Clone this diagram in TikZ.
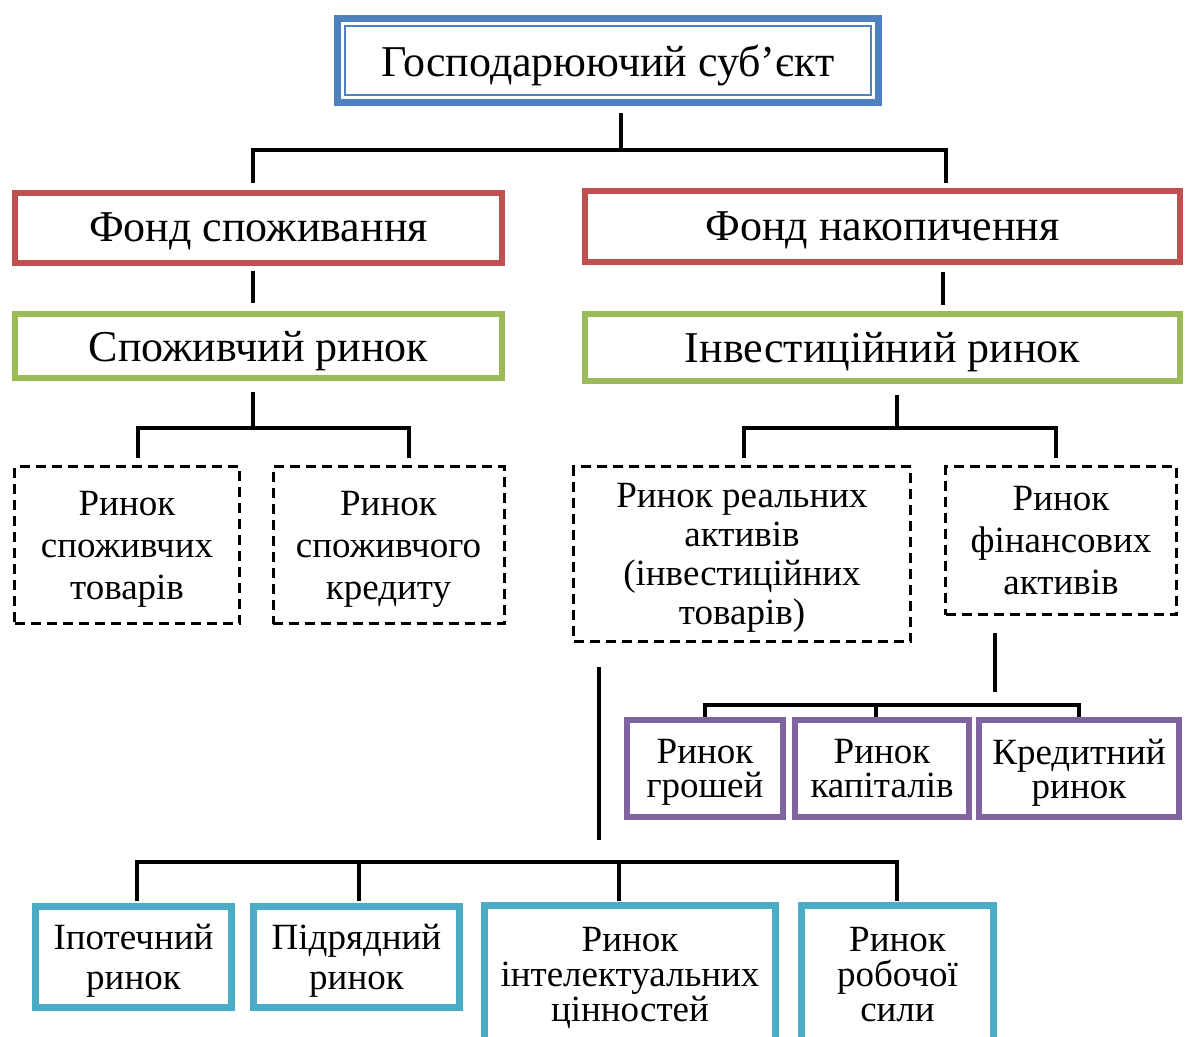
\documentclass[tikz,border=0pt]{standalone}
\usepackage{fontspec}
\setmainfont{Liberation Serif}
\usepackage{tikz}
\definecolor{subjblue}{HTML}{4F81BD}
\definecolor{fundred}{HTML}{C0504D}
\definecolor{mktgreen}{HTML}{9BBB59}
\definecolor{finpurple}{HTML}{8064A2}
\definecolor{invcyan}{HTML}{4BACC6}

\begin{document}
\begin{tikzpicture}[x=1pt, y=-1pt,
    box/.style={draw, fill=white, align=center, inner sep=0pt, text depth=0pt},
    bigbox/.style={box, font=\fontsize{44}{50}\selectfont},
    smallbox/.style={box, font=\fontsize{37}{#1}\selectfont},
    smallbox/.default=39,
    fund/.style={bigbox, draw=fundred, line width=6pt},
    market/.style={bigbox, draw=mktgreen, line width=6pt},
    dashbox/.style={smallbox=#1, line width=3pt, dash pattern=on 10pt off 6pt},
    dashbox/.default=42,
    finbox/.style={smallbox=34, draw=finpurple, line width=6pt},
    invbox/.style={smallbox=#1, draw=invcyan, line width=7pt},
    invbox/.default=35,
    link/.style={line width=3.5pt}]
  \clip (0,0) rectangle (1185,1036);
  \fill[white] (0,0) rectangle (1185,1036);

  % Top of the tree
  \node[bigbox, draw=subjblue, line width=7pt, minimum width=541pt, minimum height=84pt]
    (subj) at (608,60.5) {Господарюючий суб’єкт};
  \draw[subjblue, line width=2.5pt] ([xshift=11pt,yshift=-11pt]subj.north west)
    rectangle ([xshift=-11pt,yshift=11pt]subj.south east);

  % Funds
  \node[fund, minimum width=487pt, minimum height=70pt] (cfund) at (258.5,227.5) {Фонд споживання};
  \node[fund, minimum width=595pt, minimum height=71pt] (afund) at (882.5,226.5) {Фонд накопичення};

  % Markets
  \node[market, minimum width=487pt, minimum height=64pt] (cmkt) at (258.5,346) {Споживчий ринок};
  \node[market, minimum width=595pt, minimum height=67pt] (imkt) at (882.5,347.5) {Інвестиційний ринок};

  % Dashed sub-markets
  \node[dashbox, minimum width=225pt, minimum height=157pt] (goods) at (127,545)
    {Ринок\\споживчих\\товарів};
  \node[dashbox, minimum width=231pt, minimum height=157pt] (credit) at (388.5,545)
    {Ринок\\споживчого\\кредиту};
  \node[dashbox=39, minimum width=337pt, minimum height=175pt] (real) at (742,554)
    {Ринок реальних\\активів\\(інвестиційних\\товарів)};
  \node[dashbox, minimum width=231pt, minimum height=148pt] (fin) at (1061,540.5)
    {Ринок\\фінансових\\активів};

  % Financial assets
  \node[finbox, minimum width=156pt, minimum height=97pt] (money) at (705,768.5) {Ринок\\грошей};
  \node[finbox, minimum width=174pt, minimum height=97pt] (capital) at (882,768.5) {Ринок\\капіталів};
  \node[finbox, minimum width=200pt, minimum height=97pt] (loans) at (1079,768.5) {Кредитний\\ринок};

  % Real assets
  \node[invbox=40, minimum width=196pt, minimum height=101pt] (mortg) at (133.5,957) {Іпотечний\\ринок};
  \node[invbox=40, minimum width=206pt, minimum height=101pt] (contr) at (356.5,957) {Підрядний\\ринок};
  \node[invbox, minimum width=291pt, minimum height=138pt] (intel) at (630,974)
    {Ринок\\інтелектуальних\\цінностей};
  \node[invbox, minimum width=192pt, minimum height=138pt] (labour) at (897.5,974)
    {Ринок\\робочої\\сили};

  % Bus points
  \coordinate (ta) at (621,113);
  \coordinate (tb) at (621,150);
  \coordinate (tl) at (253,183);
  \coordinate (tr) at (946,183);
  \coordinate (ca) at (253,271);
  \coordinate (cb) at (253,303);
  \coordinate (aa) at (943,272);
  \coordinate (ab) at (943,305);
  \coordinate (ga) at (253,392);
  \coordinate (gb) at (253,428);
  \coordinate (gl) at (138,458);
  \coordinate (gr) at (409,458);
  \coordinate (ia) at (897,395);
  \coordinate (ib) at (897,428);
  \coordinate (il) at (744,458);
  \coordinate (ir) at (1056,458);
  \coordinate (fa) at (995,633);
  \coordinate (fb) at (995,692);
  \coordinate (fm) at (876,705);
  \coordinate (ra) at (599,667);
  \coordinate (rb) at (599,840);
  \coordinate (rm) at (619,862);
  \coordinate (d1) at (137,901);
  \coordinate (d2) at (359,901);
  \coordinate (d3) at (619,901);
  \coordinate (d4) at (897,901);

  \draw[link] (ta) -- (tb);
  \draw[link] (tl) |- (tb) -| (tr);
  \draw[link] (ca) -- (cb);
  \draw[link] (aa) -- (ab);
  \draw[link] (ga) -- (gb);
  \draw[link] (gl) |- (gb) -| (gr);
  \draw[link] (ia) -- (ib);
  \draw[link] (il) |- (ib) -| (ir);
  \draw[link] (fa) -- (fb);
  \draw[link] (money.north) |- (fm) -| (loans.north);
  \draw[link] (fm) -- (fm |- capital.north);
  \draw[link] (ra) -- (rb);
  \draw[link] (d1) |- (rm) -| (d4);
  \draw[link] (d2) -- (d2 |- rm);
  \draw[link] (d3) -- (rm);
\end{tikzpicture}
\end{document}
